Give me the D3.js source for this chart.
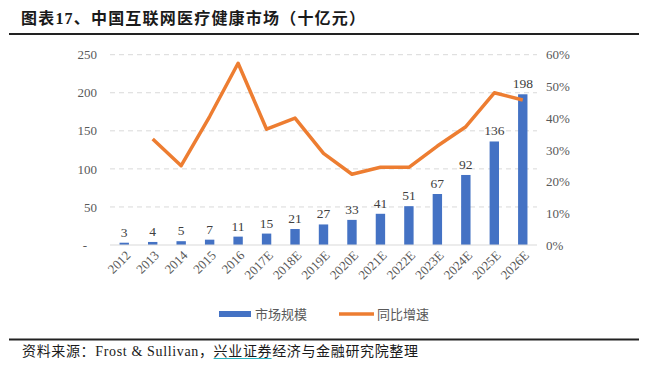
<!DOCTYPE html>
<html><head><meta charset="utf-8">
<script src="https://cdn.jsdelivr.net/npm/d3@7"></script>
<style>body{margin:0;background:#fff;}svg{display:block;}</style>
</head><body>
<script>
const categories = ["2012","2013","2014","2015","2016","2017E","2018E","2019E","2020E","2021E","2022E","2023E","2024E","2025E","2026E"];
const marketSize = [3,4,5,7,11,15,21,27,33,41,51,67,92,136,198];
const growth = [null,33.4,25.0,40.5,57.3,36.5,40.0,28.9,22.3,24.5,24.5,31.2,37.3,48.0,45.7];
const leftTicks = [0,50,100,150,200,250];
const rightTicks = [0,10,20,30,40,50,60];
const seriesNames = ["市场规模","同比增速"];
const titleText = "图表17、中国互联网医疗健康市场（十亿元）";
const sourceText = "资料来源：Frost & Sullivan，兴业证券经济与金融研究院整理";
const underlined = "兴业证券";

const W=646,H=365;
const svg=d3.select("body").append("svg").attr("width",W).attr("height",H);
const serif="'Liberation Serif','Times New Roman',serif";
const cjk="'Noto Sans CJK SC','Noto Sans',sans-serif";
const mixed="'Liberation Serif','Noto Sans CJK SC',serif";

// title
svg.append("text").attr("x",21).attr("y",24).attr("font-family",mixed).attr("font-weight","bold")
  .attr("font-size",16).attr("fill","#1a1a1a").attr("textLength",344).attr("lengthAdjust","spacing").text(titleText);
svg.append("line").attr("x1",9).attr("x2",639).attr("y1",34).attr("y2",34).attr("stroke","#222").attr("stroke-width",2);

const x=d3.scaleBand().domain(categories).range([110,537]).paddingInner(0.67).paddingOuter(0.335);
const yL=d3.scaleLinear().domain([0,250]).range([245,54.7]);
const yR=d3.scaleLinear().domain([0,60]).range([245,54.7]);

// grid
svg.append("g").selectAll("line").data(leftTicks.slice(1)).join("line")
  .attr("x1",110).attr("x2",537).attr("y1",d=>yL(d)).attr("y2",d=>yL(d))
  .attr("stroke","#d9d9d9").attr("stroke-dasharray","5,4").attr("stroke-width",1);

// left axis
const gl=svg.append("g").attr("transform","translate(97,0)")
  .call(d3.axisLeft(yL).tickValues(leftTicks).tickSize(0).tickPadding(0).tickFormat(d=>d===0?"-":d));
gl.select(".domain").remove();
gl.selectAll("text").attr("font-family",serif).attr("font-size",13).attr("fill","#595959")
  .attr("dx",d=>d===0?-10:0);

// right axis
const gr=svg.append("g").attr("transform","translate(546,0)")
  .call(d3.axisRight(yR).tickValues(rightTicks).tickSize(0).tickPadding(0).tickFormat(d=>d+"%"));
gr.select(".domain").remove();
gr.selectAll("text").attr("font-family",serif).attr("font-size",13).attr("fill","#595959");

// bars
svg.append("g").selectAll("rect").data(categories).join("rect")
  .attr("x",d=>x(d)).attr("width",x.bandwidth())
  .attr("y",(d,i)=>yL(marketSize[i])).attr("height",(d,i)=>yL(0)-yL(marketSize[i]))
  .attr("fill","#4472C4");

// baseline
svg.append("line").attr("x1",110).attr("x2",537).attr("y1",yL(0)).attr("y2",yL(0)).attr("stroke","#d9d9d9").attr("stroke-width",1.2);

// bar labels
svg.append("g").selectAll("text").data(categories).join("text")
  .attr("x",d=>x(d)+x.bandwidth()/2).attr("y",(d,i)=>yL(marketSize[i])-6)
  .attr("text-anchor","middle").attr("font-family",serif).attr("font-size",13.5).attr("fill","#404040")
  .text((d,i)=>marketSize[i]);

// line
const line=d3.line().defined(d=>d.v!=null).x(d=>x(d.c)+x.bandwidth()/2).y(d=>yR(d.v));
svg.append("path").datum(categories.map((c,i)=>({c,v:growth[i]})))
  .attr("d",line).attr("fill","none").attr("stroke","#ED7D31").attr("stroke-width",3.5).attr("stroke-linejoin","round");

// x labels
const gx=svg.append("g").attr("transform",`translate(0,${yL(0)})`)
  .call(d3.axisBottom(x).tickSize(0).tickPadding(0));
gx.select(".domain").remove();
gx.selectAll("text").attr("font-family",serif).attr("font-size",13).attr("fill","#595959")
  .attr("text-anchor","end").attr("transform","translate(4,8) rotate(-45)").attr("dy","0.35em");

// legend
svg.append("rect").attr("x",219).attr("y",311).attr("width",32).attr("height",6).attr("fill","#4472C4");
svg.append("text").attr("x",255).attr("y",318.5).attr("font-family",mixed).attr("font-size",13).attr("fill","#595959").text(seriesNames[0]);
svg.append("line").attr("x1",339).attr("x2",374).attr("y1",314).attr("y2",314).attr("stroke","#ED7D31").attr("stroke-width",3.5);
svg.append("text").attr("x",377).attr("y",318.5).attr("font-family",mixed).attr("font-size",13).attr("fill","#595959").text(seriesNames[1]);

// bottom
svg.append("line").attr("x1",9).attr("x2",639).attr("y1",339.5).attr("y2",339.5).attr("stroke","#222").attr("stroke-width",2);
const src=svg.append("text").attr("x",22).attr("y",356).attr("font-family",mixed).attr("font-size",14)
  .attr("fill","#1a1a1a").attr("textLength",396).attr("lengthAdjust","spacing").text(sourceText);
let ux1=210,ux2=268;
try{
  const n=src.node(), k=sourceText.indexOf(underlined);
  const a=n.getStartPositionOfChar(k).x, b=n.getEndPositionOfChar(k+underlined.length-1).x;
  if(isFinite(a)&&isFinite(b)&&b>a){ux1=a;ux2=b;}
}catch(e){}
svg.append("line").attr("x1",ux1).attr("x2",ux2).attr("y1",358.5).attr("y2",358.5).attr("stroke","#2bb3c0").attr("stroke-width",1.2);
</script>
</body></html>
